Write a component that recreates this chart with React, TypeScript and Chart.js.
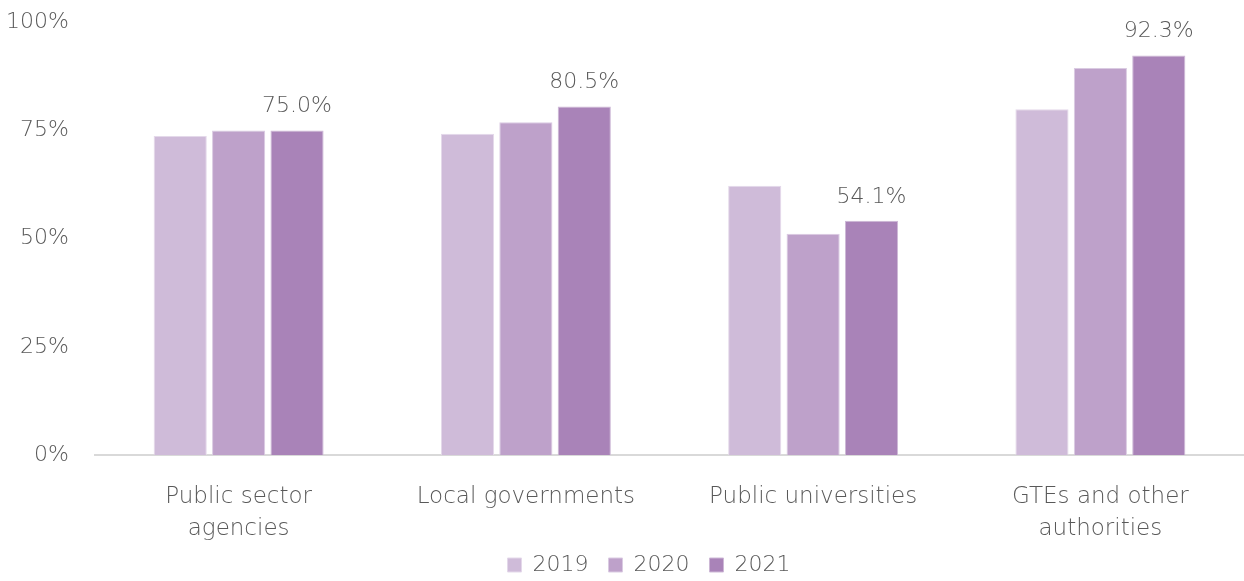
import React, { useEffect, useRef } from "react";
import { Chart, registerables } from "chart.js";

Chart.register(...registerables);

const categories: (string | string[])[] = [
  ["Public sector", "agencies"],
  "Local governments",
  "Public universities",
  ["GTEs and other", "authorities"],
];
const seriesLabels = ["2019", "2020", "2021"];
const values2019 = [73.7, 74.2, 62.2, 79.9];
const values2020 = [75.0, 76.9, 51.1, 89.4];
const values2021 = [75.0, 80.5, 54.1, 92.3];
const colors = ["#CFBBD9", "#BEA1CA", "#A983B8"];
const borderColors = ["#E4D9EA", "#DACBE2", "#CDB8D6"];
const yTicks = [0, 25, 50, 75, 100];

const FONT = "'DejaVu Sans'";
const WEIGHT = "200";
const TEXT = "#595959";

const labelPlugin = {
  id: "lastLabels",
  beforeLayout(chart: any) {
    const lg = chart.legend;
    if (lg && !lg.__patched) {
      const orig = lg.fit.bind(lg);
      lg.fit = function () {
        orig();
        this.height = 27;
      };
      lg.__patched = true;
    }
  },
  afterLayout(chart: any) {
    const lg = chart.legend;
    if (lg) {
      lg.left += 27;
      lg.right += 27;
      lg.top -= 20;
      lg.height += 20;
    }
  },
  afterDatasetsDraw(chart: any) {
    const ctx = chart.ctx;
    const meta = chart.getDatasetMeta(2);
    ctx.save();
    ctx.font = `${WEIGHT} 22px ${FONT}`;
    ctx.fillStyle = TEXT;
    ctx.textAlign = "center";
    ctx.textBaseline = "bottom";
    meta.data.forEach((bar: any, i: number) => {
      ctx.fillText(values2021[i].toFixed(1) + "%", bar.x, bar.y - 13);
    });
    ctx.restore();
  },
};

export default function App() {
  const ref = useRef<HTMLCanvasElement | null>(null);
  useEffect(() => {
    if (!ref.current) return;
    const all = [values2019, values2020, values2021];
    const chart = new Chart(ref.current, {
      type: "bar",
      data: {
        labels: categories,
        datasets: all.map((v, i) => ({
          label: seriesLabels[i],
          data: v,
          backgroundColor: colors[i],
          borderColor: borderColors[i],
          borderWidth: 1,
          categoryPercentage: 0.61,
          barPercentage: 0.91,
        })),
      },
      options: {
        responsive: false,
        animation: false,
        layout: { padding: { top: 0, right: 0, left: 0, bottom: 0 } },
        plugins: {
          legend: {
            position: "bottom",
            labels: {
              font: { family: FONT, size: 22, weight: WEIGHT },
              color: TEXT,
              boxWidth: 14,
              boxHeight: 14,
              padding: 20,
            },
          },
          tooltip: { enabled: false },
        },
        scales: {
          x: {
            afterFit(scale: any) {
              scale.height = 99;
            },
            grid: { display: false, drawTicks: false },
            border: { display: true, color: "#D9D9D9", width: 2 },
            ticks: {
              font: { family: FONT, size: 23, weight: WEIGHT, lineHeight: 1.4 },
              color: TEXT,
              padding: 26,
              maxRotation: 0,
              autoSkip: false,
            },
          },
          y: {
            min: 0,
            max: 100,
            afterFit(scale: any) {
              scale.width = 95;
            },
            afterBuildTicks(scale: any) {
              scale.ticks = yTicks.map((v) => ({ value: v }));
            },
            grid: { display: false, drawTicks: true, tickLength: 17 },
            border: { display: false },
            ticks: {
              font: { family: FONT, size: 22, weight: WEIGHT },
              color: TEXT,
              padding: 9,
              callback: (v: any) => v + "%",
            },
          },
        },
      },
      plugins: [labelPlugin],
    });
    return () => chart.destroy();
  }, []);
  return (
    <div style={{ position: "absolute", left: 0, top: 0, width: 1244, height: 581, background: "#fff" }}>
      <canvas ref={ref} width={1244} height={581} style={{ width: 1244, height: 581 }} />
    </div>
  );
}
